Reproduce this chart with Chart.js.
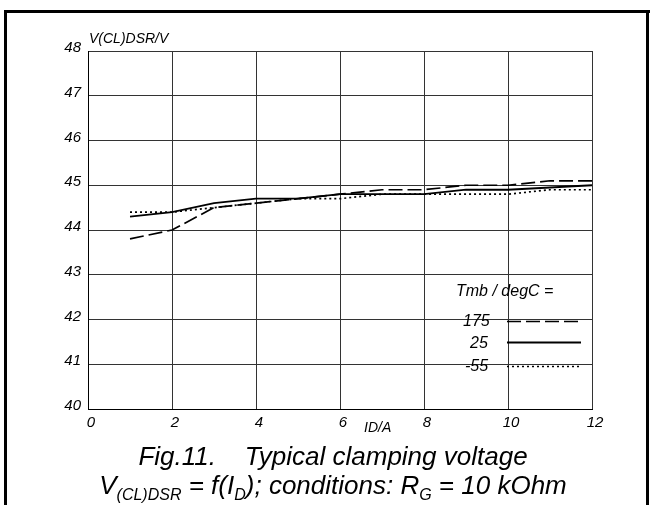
<!DOCTYPE html>
<html>
<head>
<meta charset="utf-8">
<script src="https://cdn.jsdelivr.net/npm/chart.js@4/dist/chart.umd.min.js"></script>
<style>
  html, body { margin:0; padding:0; background:#fff; }
  body { width:652px; height:505px; position:relative; overflow:hidden;
         font-family:"Liberation Sans", Arial, sans-serif; font-style:italic; color:#000; }
  #wrap { position:absolute; left:0; top:0; width:652px; height:505px; }
  .frameL { position:absolute; left:4px; top:10px; width:3px; height:495px; background:#000; }
  .frameT { position:absolute; left:4px; top:10px; width:646px; height:3px; background:#000; }
  .frameR { position:absolute; left:646px; top:10px; width:3px; height:495px; background:#000; }
  .t { position:absolute; white-space:nowrap; line-height:1; }
  .cap { position:absolute; left:0; width:666px; text-align:center; font-size:26px; white-space:nowrap; line-height:1; }
  sub { font-size:16px; vertical-align:-6px; line-height:0; }
</style>
</head>
<body>
<div id="wrap"><canvas id="c" width="652" height="505"></canvas></div>
<div class="frameL"></div><div class="frameT"></div><div class="frameR"></div>
<div class="t" style="left:89px; top:31px; font-size:14px;">V(CL)DSR/V</div>
<div class="t" style="left:364px; top:420px; font-size:14px;">ID/A</div>
<div class="t" style="left:456px; top:283px; font-size:16px;">Tmb / degC =</div>
<div class="t" style="left:463px; top:313px; font-size:16px;">175</div>
<div class="t" style="left:470px; top:335px; font-size:16px;">25</div>
<div class="t" style="left:465px; top:358px; font-size:16px;">-55</div>
<svg style="position:absolute;left:0;top:0" width="652" height="505">
  <line x1="507" y1="321.5" x2="581" y2="321.5" stroke="#000" stroke-width="1.6" stroke-dasharray="14,5"/>
  <line x1="507" y1="342.5" x2="581" y2="342.5" stroke="#000" stroke-width="1.8"/>
  <line x1="507" y1="366.5" x2="581" y2="366.5" stroke="#000" stroke-width="1.6" stroke-dasharray="2,3"/>
</svg>
<div class="cap" style="top:443px;">Fig.11.&nbsp;&nbsp;&nbsp; Typical clamping voltage</div>
<div class="cap" style="top:472px;">V<sub>(CL)DSR</sub> = f(I<sub>D</sub>); conditions: R<sub>G</sub> = 10 kOhm</div>
<script>
const currentA = [1, 2, 3, 4, 5, 6, 7, 8, 9, 10, 11, 12];
const v175 = [43.8, 44.0, 44.5, 44.6, 44.7, 44.8, 44.9, 44.9, 45.0, 45.0, 45.1, 45.1];
const v25  = [44.3, 44.4, 44.6, 44.7, 44.7, 44.8, 44.8, 44.8, 44.9, 44.9, 44.95, 45.0];
const vm55 = [44.4, 44.4, 44.5, 44.6, 44.7, 44.7, 44.8, 44.8, 44.8, 44.8, 44.9, 44.9];
const xTicks = [0, 2, 4, 6, 8, 10, 12];
const yTicks = [40, 41, 42, 43, 44, 45, 46, 47, 48];

const pts = arr => currentA.map((x, i) => ({x, y: arr[i]}));
const tickFont = {family: '"Liberation Sans", Arial, sans-serif', style: 'italic', size: 15};

new Chart(document.getElementById('c'), {
  type: 'line',
  data: {
    datasets: [
      {label: '175', data: pts(v175), borderColor: '#000', borderWidth: 1.7, borderDash: [14, 5], pointRadius: 0, tension: 0},
      {label: '25',  data: pts(v25),  borderColor: '#000', borderWidth: 1.8, pointRadius: 0, tension: 0},
      {label: '-55', data: pts(vm55), borderColor: '#000', borderWidth: 1.7, borderDash: [2, 3], pointRadius: 0, tension: 0}
    ]
  },
  options: {
    responsive: false,
    animation: false,
    devicePixelRatio: 1,
    layout: {padding: {left: 0, top: 51, right: 60, bottom: 0}},
    plugins: {legend: {display: false}, tooltip: {enabled: false}},
    scales: {
      x: {
        type: 'linear', min: 0, max: 12,
        afterBuildTicks: s => { s.ticks = xTicks.map(v => ({value: v})); },
        afterFit: s => { s.height = 96; },
        ticks: {color: '#000', font: tickFont, padding: 5, labelOffset: 3, maxRotation: 0},
        grid: {color: '#333', lineWidth: 1, drawTicks: false},
        border: {display: true, color: '#000', width: 1}
      },
      y: {
        type: 'linear', min: 40, max: 48,
        afterBuildTicks: s => { s.ticks = yTicks.map(v => ({value: v})); },
        afterFit: s => { s.width = 88; },
        ticks: {color: '#000', font: tickFont, padding: 7, labelOffset: -3},
        grid: {color: '#333', lineWidth: 1, drawTicks: false},
        border: {display: true, color: '#000', width: 1}
      }
    }
  }
});
</script>
</body>
</html>
